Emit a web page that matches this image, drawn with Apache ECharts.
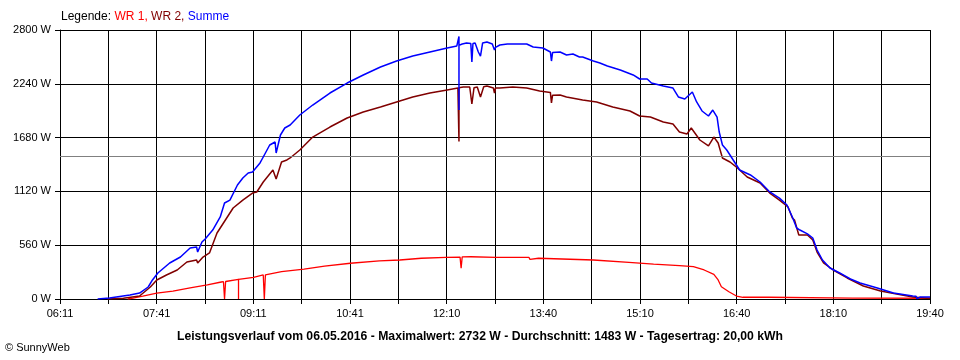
<!DOCTYPE html>
<html>
<head>
<meta charset="utf-8">
<script src="https://cdn.jsdelivr.net/npm/echarts@6/dist/echarts.min.js"></script>
<style>html,body{margin:0;padding:0;background:#fff;}#c{width:960px;height:360px;}</style>
</head>
<body>
<div id="c"></div>
<script>
// ---- data ----
const startTime = '06:11';
const endTime = '19:40';
const xTickLabels = ['06:11','07:41','09:11','10:41','12:10','13:40','15:10','16:40','18:10','19:40'];
const yMax = 2800;
const yStep = 560;
const averageW = 1483;
const titleText = 'Leistungsverlauf vom 06.05.2016 - Maximalwert: 2732 W - Durchschnitt: 1483 W - Tagesertrag: 20,00 kWh';

const wr1Times = ['07:14','07:19','07:28','07:41','07:56','08:12','08:28','08:41','08:43','08:44','08:44','08:45','08:57','08:57','08:57','09:11','09:20','09:21','09:21','09:22','09:22','09:23','09:37','09:58','10:17','10:41','11:08','11:27','11:47','12:10','12:23','12:24','12:25','12:33','12:56','13:20','13:27','13:28','13:36','14:27','15:00','15:23','15:47','16:00','16:10','16:19','16:23','16:26','16:33','16:40','16:46','17:07','17:08','17:10','18:28','19:40'];
const wr1Values = [0,10,31,62,83,115,146,177,180,180,0,182,205,0,205,226,250,250,0,0,252,257,284,312,343,372,396,406,424,434,436,320,438,440,434,434,434,412,424,406,382,364,347,336,302,257,198,128,76,31,18,18,28,18,10,8];

const wr2Times = ['06:55','07:10','07:25','07:35','07:41','07:50','08:00','08:09','08:18','08:19','08:24','08:30','08:37','08:43','08:52','09:01','09:10','09:14','09:20','09:29','09:32','09:37','09:42','09:45','09:54','10:06','10:22','10:38','10:53','11:09','11:24','11:39','11:55','12:11','12:21','12:22','12:22','12:26','12:32','12:34','12:36','12:39','12:42','12:45','12:48','12:54','12:55','12:56','13:00','13:12','13:25','13:37','13:47','13:48','13:49','13:56','14:02','14:17','14:30','14:45','15:01','15:10','15:20','15:32','15:41','15:47','15:54','15:58','16:06','16:14','16:19','16:23','16:27','16:34','16:41','16:50','17:02','17:11','17:20','17:28','17:32','17:34','17:38','17:46','17:51','17:55','18:01','18:10','18:23','18:38','18:54','19:09','19:24','19:40'];
const wr2Values = [0,8,31,125,198,250,302,385,406,375,437,479,687,791,947,1030,1103,1114,1218,1343,1249,1426,1447,1468,1551,1686,1790,1884,1946,1999,2051,2103,2144,2175,2196,1640,2200,2207,2207,2030,2200,2207,2103,2210,2217,2196,2144,2196,2196,2207,2196,2165,2150,2040,2120,2123,2103,2071,2051,1999,1957,1905,1894,1842,1822,1738,1717,1780,1655,1593,1686,1624,1468,1426,1364,1270,1207,1103,1030,958,843,822,666,666,614,489,375,302,219,135,83,52,21,5];

const sumTimes = ['06:46','06:57','07:16','07:25','07:33','07:37','07:42','07:53','08:03','08:12','08:18','08:19','08:23','08:26','08:33','08:40','08:44','08:49','08:56','09:01','09:06','09:10','09:17','09:20','09:26','09:31','09:32','09:36','09:40','09:45','09:54','10:06','10:22','10:38','10:53','11:09','11:24','11:39','11:55','12:11','12:20','12:22','12:22','12:22','12:25','12:29','12:33','12:34','12:35','12:37','12:40','12:42','12:44','12:48','12:53','12:55','12:56','12:57','13:00','13:07','13:16','13:25','13:31','13:40','13:47','13:48','13:49','13:56','14:02','14:08','14:14','14:17','14:27','14:33','14:40','14:52','15:04','15:10','15:17','15:21','15:32','15:41','15:46','15:52','15:59','16:03','16:08','16:14','16:18','16:22','16:24','16:27','16:31','16:37','16:43','16:53','17:02','17:11','17:20','17:27','17:32','17:36','17:39','17:46','17:51','17:55','18:00','18:07','18:16','18:26','18:35','18:51','19:06','19:24','19:27','19:28','19:31','19:40'];
const sumValues = [0,10,42,62,125,198,271,375,437,531,541,489,593,625,718,854,999,1030,1187,1259,1312,1322,1416,1478,1603,1634,1520,1707,1780,1811,1915,2019,2144,2248,2332,2415,2477,2529,2571,2613,2634,2732,1967,2640,2654,2665,2660,2467,2660,2665,2571,2529,2665,2675,2654,2592,2620,2623,2644,2654,2654,2654,2623,2613,2571,2477,2565,2571,2540,2550,2519,2519,2477,2457,2425,2384,2332,2290,2290,2248,2217,2196,2103,2082,2155,2051,1957,1905,1967,1894,1738,1603,1551,1447,1343,1291,1218,1114,1050,978,854,739,718,677,635,510,406,323,271,208,167,115,62,31,28,3,21,21];

// ---- helpers ----
function toMin(t){ const p = t.split(':'); return (+p[0])*60 + (+p[1]); }
const x0 = toMin(startTime);
const xSpan = toMin(endTime) - x0;
const xStep = xSpan / 18;
function pairs(times, vals){ return times.map((t,i)=>[toMin(t)-x0, vals[i]]); }

const font = 'Liberation Sans, Arial, sans-serif';
const chart = echarts.init(document.getElementById('c'), null, {renderer:'canvas'});
chart.setOption({
  animation: false,
  backgroundColor: '#ffffff',
  textStyle: {fontFamily: font},
  title: [
    {
      text: '{k|Legende: }{a|WR 1, }{b|WR 2, }{c|Summe}',
      left: 61, top: 11, padding: 0,
      textStyle: {
        fontWeight: 'normal', fontSize: 12,
        rich: {
          k: {color:'#000', fontSize: 12, fontWeight: 'normal', fontFamily: font},
          a: {color:'#ff0000', fontSize: 12, fontWeight: 'normal', fontFamily: font},
          b: {color:'#800000', fontSize: 12, fontWeight: 'normal', fontFamily: font},
          c: {color:'#0000ff', fontSize: 12, fontWeight: 'normal', fontFamily: font}
        }
      }
    },
    {
      text: titleText,
      left: 'center', top: 331, padding: 0,
      textStyle: {color:'#000', fontSize: 12.2, fontWeight: 'bold', fontFamily: font}
    },
    {
      text: '\u00a9 SunnyWeb',
      left: 5, top: 342, padding: 0,
      textStyle: {color:'#000', fontSize: 11, fontWeight: 'normal', fontFamily: font}
    }
  ],
  grid: {left: 60, right: 30, top: 30, bottom: 61, containLabel: false},
  xAxis: {
    type: 'value', min: 0, max: xSpan, interval: xStep,
    axisLine: {show: true, lineStyle: {color:'#000', width: 1}},
    axisTick: {show: true, length: 5, lineStyle: {color:'#000'}},
    splitLine: {show: true, lineStyle: {color:'#000', width: 1}},
    axisLabel: {
      color:'#000', fontSize: 11, margin: 9, fontFamily: font,
      showMinLabel: true, showMaxLabel: true,
      formatter: function(v){
        const i = Math.round(v / xStep);
        return (i % 2 === 0) ? (xTickLabels[i/2] || '') : '';
      }
    }
  },
  yAxis: {
    type: 'value', min: 0, max: yMax, interval: yStep,
    axisLine: {show: true, lineStyle: {color:'#000', width: 1}},
    axisTick: {show: true, length: 5, lineStyle: {color:'#000'}},
    splitLine: {show: true, lineStyle: {color:'#000', width: 1}},
    axisLabel: {color:'#000', fontSize: 11, margin: 9, fontFamily: font,
      formatter: function(v){ return String(v) + ' W'; }}
  },
  series: [
    {
      name: 'WR 1', type: 'line', data: pairs(wr1Times, wr1Values),
      showSymbol: false, symbol: 'none', lineStyle: {color:'#ff0000', width: 1.3},
      markLine: {
        silent: true, symbol: 'none', label: {show: false},
        lineStyle: {color:'#808080', width: 1, type: 'solid'},
        data: [{yAxis: averageW}]
      },
      z: 3
    },
    {
      name: 'WR 2', type: 'line', data: pairs(wr2Times, wr2Values),
      showSymbol: false, symbol: 'none', lineStyle: {color:'#800000', width: 1.5}, z: 4
    },
    {
      name: 'Summe', type: 'line', data: pairs(sumTimes, sumValues),
      showSymbol: false, symbol: 'none', lineStyle: {color:'#0000ff', width: 1.5}, z: 5
    }
  ]
});
</script>
</body>
</html>
